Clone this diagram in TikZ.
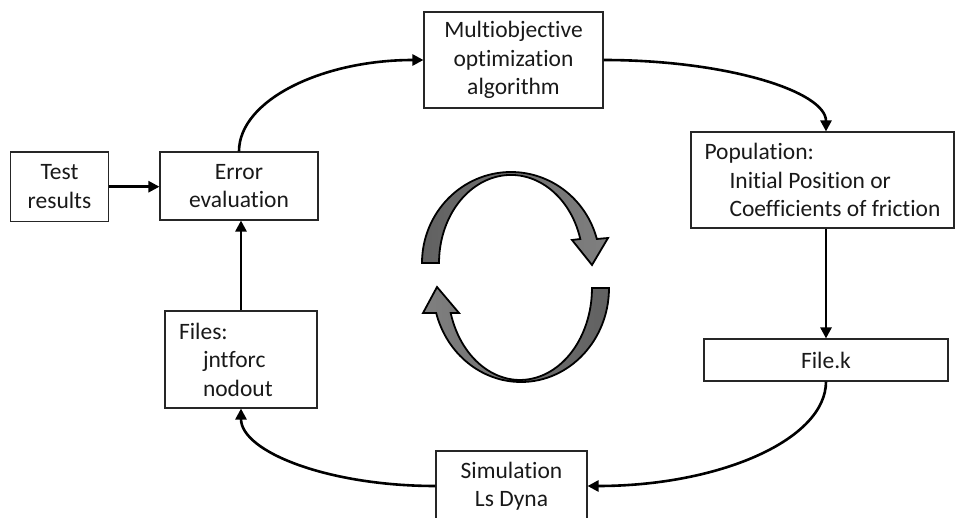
\documentclass[tikz,border=0pt]{standalone}
\usepackage{fontspec}
\setmainfont{Carlito}[Ligatures=NoCommon]
\usetikzlibrary{arrows.meta,calc}
\begin{document}
\begin{tikzpicture}[x=1pt,y=1pt,
  box/.style={draw=black!85, line width=1.1pt, inner sep=0pt, align=center,
    font=\fontsize{23.5pt}{28.5pt}\selectfont, text=black!90},
  conn/.style={line width=2.6pt, -{Triangle[length=11pt,width=11pt]}},
  crescent/.style={draw=black, line width=1.8pt, line join=miter}]
\useasboundingbox (0,0) rectangle (955,-518);

% boxes
\node[box, minimum width=97.6pt, minimum height=69.3pt] (test) at (59.5,-186.7) {Test\\results};
\node[box, minimum width=158pt, minimum height=68pt] (err) at (239,-186) {Error\\evaluation};
\node[box, minimum width=179pt, minimum height=96pt] (multi) at (513.5,-60) {Multiobjective\\optimization\\algorithm};
\node[box, minimum width=263pt, minimum height=96pt, align=left] (pop) at (822.5,-180)
  {Population:\\\hspace*{25pt}Initial Position or\\\hspace*{25pt}Coefficients of friction};
\node[box, minimum width=244pt, minimum height=42pt] (fk) at (826,-360) {File.k};
\node[box, minimum width=151pt, minimum height=70pt] (sim) at (511.5,-486) {Simulation\\Ls Dyna};
\node[box, minimum width=152pt, minimum height=97pt, text width=124pt, align=left] (files) at (241,-359.5)
  {Files:\\\hspace*{24pt}jntforc\\\hspace*{24pt}nodout};

\coordinate (popn) at (pop.north -| fk.north);
\coordinate (pops) at (pop.south -| fk.north);

% connectors
\draw[conn] (test.east) -- (test.east -| err.west);
\draw[conn] (err.north) .. controls +(0,51) and +(-102,0) .. (multi.west);
\draw[conn] (multi.east) .. controls +(123,0) and +(0,40) .. (popn);
\draw[conn] (pops) -- (fk.north);
\draw[conn] (fk.south) .. controls +(0,-58) and +(132,0) .. (sim.east);
\draw[conn] (sim.west) .. controls +(-108,0) and +(0,-43) .. (files.south);
\draw[conn] (files.north) -- (files.north |- err.south);

% central circular arrows
\path[crescent, left color=black!62, right color=black!50]
  (422,-263) arc[start angle=180, end angle=15.3, x radius=89, y radius=91]
  -- (608,-238) -- (592,-265) -- (572,-240) -- (580.3,-239)
  arc[start angle=15.8, end angle=180, x radius=72, y radius=88] -- cycle;
\path[crescent, left color=black!50, right color=black!62]
  (609,-288) arc[start angle=0, end angle=-164.6, x radius=88, y radius=94]
  -- (423,-313) -- (437,-287) -- (459,-313) -- (450.7,-313)
  arc[start angle=-164.2, end angle=0, x radius=72, y radius=92] -- cycle;
\end{tikzpicture}
\end{document}
